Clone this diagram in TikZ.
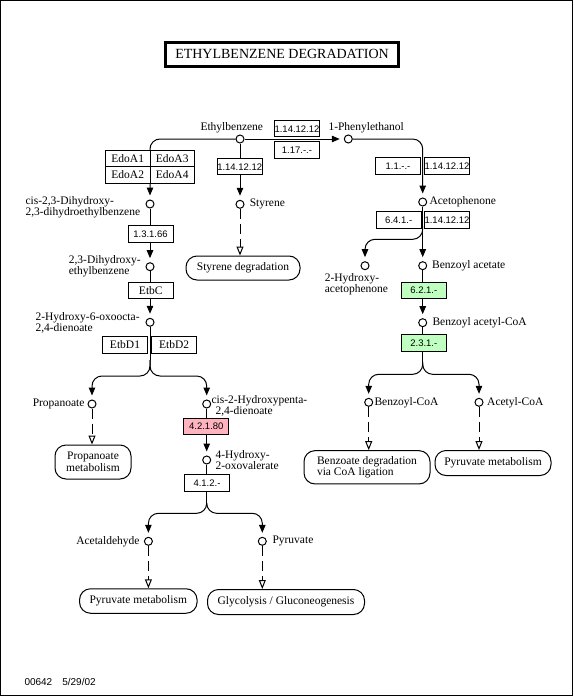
\documentclass[tikz,border=0pt]{standalone}
\usepackage{fontspec}
\setmainfont{Liberation Serif}
\newfontfamily\ecfont{Liberation Sans}
\usetikzlibrary{arrows.meta}
\definecolor{ecpink}{RGB}{255,179,191}
\definecolor{ecgreen}{RGB}{191,255,191}

\begin{document}
\begin{tikzpicture}[x={(1pt,0pt)}, y={(0pt,-1pt)}, line width=1pt,
  cpd/.style={circle, draw, fill=white, minimum size=8, inner sep=0},
  lbl/.style={inner sep=0, align=left, font=\fontsize{11.5}{11}\selectfont},
  ec/.style={draw, fill=white, minimum width=45, minimum height=16.5, inner sep=0,
    font=\ecfont\fontsize{9.5}{10}\selectfont},
  gene/.style={draw, fill=white, minimum width=44.5, minimum height=16.5, inner sep=0,
    font=\fontsize{11.5}{12}\selectfont},
  pwbox/.style={draw, fill=white, rounded corners=11, inner sep=0, align=left,
    font=\fontsize{11.5}{11.5}\selectfont},
  rxn/.style={-{Triangle[length=8pt, width=6.5pt]}, shorten >=4pt},
  link/.style={dash pattern=on 10pt off 5pt, -{Triangle[open, length=9pt, width=7pt]}},
  br/.style={rounded corners=10}]
  \useasboundingbox (0,0) rectangle (574,696);
  \draw (0.5,0.5) rectangle (572.5,695);

  \node[draw, line width=3pt, minimum width=233, minimum height=23.7, inner sep=0,
    font=\fontsize{14}{14}\selectfont] (title) at (282,54.3) {ETHYLBENZENE DEGRADATION};

  \node[cpd] (c1) at (240,139) {};
  \node[lbl, anchor=west] (t1) at (200,128) {Ethylbenzene};

  \node[cpd] (c2) at (150,204) {};
  \node[lbl, anchor=west] (t2) at (25,207.5) {cis-2,3-Dihydroxy-\\2,3-dihydroethylbenzene};

  \node[cpd] (c3) at (240,204.3) {};
  \node[lbl, anchor=west] (t3) at (249.3,204) {Styrene};

  \node[cpd] (c4) at (150,266.7) {};
  \node[lbl, anchor=west] (t4) at (68.3,266.5) {2,3-Dihydroxy-\\ethylbenzene};

  \node[cpd] (c5) at (150,322.3) {};
  \node[lbl, anchor=west] (t5) at (35,323) {2-Hydroxy-6-oxoocta-\\2,4-dienoate};

  \node[cpd] (c6) at (92,404) {};
  \node[lbl, anchor=east] (t6) at (85,404) {Propanoate};

  \node[cpd] (c7) at (206.7,404) {};
  \node[lbl, anchor=west] (t7) at (211,405.7) {cis-2-Hydroxypenta-\\\hspace{4pt}2,4-dienoate};

  \node[cpd] (c8) at (206.7,460) {};
  \node[lbl, anchor=west] (t8) at (215,460) {4-Hydroxy-\\2-oxovalerate};

  \node[cpd] (c9) at (148.4,541.3) {};
  \node[lbl, anchor=east] (t9) at (140,541.3) {Acetaldehyde};

  \node[cpd] (c10) at (262.3,541.3) {};
  \node[lbl, anchor=west] (t10) at (272,541.3) {Pyruvate};

  \node[cpd] (c11) at (348.3,139) {};
  \node[lbl, anchor=west] (t11) at (328,128) {1-Phenylethanol};

  \node[cpd] (c12) at (422.7,202) {};
  \node[lbl, anchor=west] (t12) at (429,202) {Acetophenone};

  \node[cpd] (c13) at (365,265.7) {};
  \node[lbl, anchor=west] (t13) at (324.3,284) {2-Hydroxy-\\acetophenone};

  \node[cpd] (c14) at (422.7,265.7) {};
  \node[lbl, anchor=west] (t14) at (431.7,265.5) {Benzoyl acetate};

  \node[cpd] (c15) at (422.7,322.7) {};
  \node[lbl, anchor=west] (t15) at (432,322.5) {Benzoyl acetyl-CoA};

  \node[cpd] (c16) at (368.7,402.3) {};
  \node[lbl, anchor=west] (t16) at (374,402.3) {Benzoyl-CoA};

  \node[cpd] (c17) at (479,402.3) {};
  \node[lbl, anchor=west] (t17) at (486.7,402.3) {Acetyl-CoA};

  \node[pwbox] (p1) at (243,268) [minimum width=114, minimum height=24, align=center] {Styrene degradation};
  \node[pwbox] (p2) at (93,462) [minimum width=76, minimum height=34, align=center] {Propanoate\\metabolism};
  \node[pwbox] (p3) at (367,467.3) [minimum width=126, minimum height=33.3] {Benzoate degradation\\via CoA ligation};
  \node[pwbox] (p4) at (493,463) [minimum width=116, minimum height=25] {Pyruvate metabolism};
  \node[pwbox] (p5) at (138.3,601) [minimum width=117.5, minimum height=24.5] {Pyruvate metabolism};
  \node[pwbox] (p6) at (286,602) [minimum width=157, minimum height=25] {Glycolysis / Gluconeogenesis};

  \coordinate (s1) at (150,360);
  \coordinate (b1) at (92,376);
  \coordinate (b2) at (206.7,376);
  \coordinate (s2) at (422.7,226);
  \coordinate (b3) at (365,239.3);
  \coordinate (s3) at (422.7,362);
  \coordinate (b4) at (368.7,374.3);
  \coordinate (b5) at (479,374.3);
  \coordinate (s4) at (206.7,503);
  \coordinate (b6) at (148.4,513.3);
  \coordinate (b7) at (262.3,513.3);

  \draw[rxn, br] (c1) -| (c2);
  \draw[rxn] (c1) -- (c3);
  \draw[rxn] (c1) -- (c11);
  \draw[rxn, br] (c11) -| (c12);
  \draw[rxn] (c2) -- (c4);
  \draw[rxn] (c4) -- (c5);
  \draw (c5) -- (s1);
  \draw[rxn, br] (s1) |- (b1) -- (c6);
  \draw[rxn, br] (s1) |- (b2) -- (c7);
  \draw[rxn] (c7) -- (c8);
  \draw (c8) -- (s4);
  \draw[rxn, br] (s4) |- (b6) -- (c9);
  \draw[rxn, br] (s4) |- (b7) -- (c10);
  \draw[rxn] (c12) -- (c14);
  \draw[rxn, br] (s2) |- (b3) -- (c13);
  \draw[rxn] (c14) -- (c15);
  \draw (c15) -- (s3);
  \draw[rxn, br] (s3) |- (b4) -- (c16);
  \draw[rxn, br] (s3) |- (b5) -- (c17);

  \draw[link] (c3) -- (c3 |- p1.north);
  \draw[link] (c6) -- (c6 |- p2.north);
  \draw[link] (c16) -- (c16 |- p3.north);
  \draw[link] (c17) -- (c17 |- p4.north);
  \draw[link] (c9) -- (c9 |- p5.north);
  \draw[link] (c10) -- (c10 |- p6.north);

  \node[gene] (g1) at (127.75,158.5) {EdoA1};
  \node[gene] (g2) at (172.25,158.5) {EdoA3};
  \node[gene] (g3) at (127.75,175) {EdoA2};
  \node[gene] (g4) at (172.25,175) {EdoA4};
  \node[gene] (g5) at (150.8,290.3) {EtbC};
  \node[gene] (g6) at (125,345) {EtbD1};
  \node[gene] (g7) at (174.2,345) {EtbD2};

  \node[ec] (e1) at (239.7,166.7) {1.14.12.12};
  \node[ec] (e2) at (297,128.7) {1.14.12.12};
  \node[ec] (e3) at (297,150) {1.17.-.-};
  \node[ec] (e4) at (398,165.8) {1.1.-.-};
  \node[ec] (e5) at (447,165.8) {1.14.12.12};
  \node[ec] (e6) at (150.5,234) {1.3.1.66};
  \node[ec] (e7) at (398.7,220) {6.4.1.-};
  \node[ec] (e8) at (447,220) {1.14.12.12};
  \node[ec, fill=ecgreen] (e9) at (423.8,290.5) {6.2.1.-};
  \node[ec, fill=ecgreen, minimum height=17] (e10) at (423.8,343) {2.3.1.-};
  \node[ec, fill=ecpink] (e11) at (206.3,426.5) {4.2.1.80};
  \node[ec] (e12) at (207,483) {4.1.2.-};

  \node[lbl, anchor=west, font=\ecfont\fontsize{10}{10}\selectfont] (date) at (24,682) {00642\quad 5/29/02};
\end{tikzpicture}
\end{document}
